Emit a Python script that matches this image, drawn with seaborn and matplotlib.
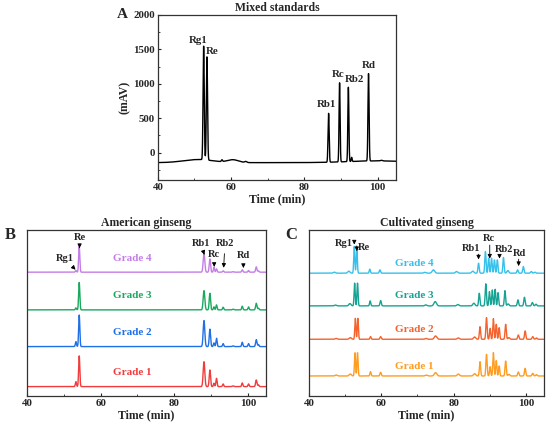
import numpy as np
import pandas as pd
import matplotlib.pyplot as plt
import seaborn as sns

# peak tables (time in min, height, sigma)
mix_times = [51.0, 52.5, 53.4, 57.5, 60.5, 64.0, 86.6, 89.6, 92.0, 92.9, 97.5, 101.0, 100.0]
mix_heights = [45, 1650, 1500, 25, 40, 15, 710, 1150, 1080, 60, 1270, 10, 25]
mix_widths = [4.0, 0.16, 0.16, 0.15, 1.5, 0.3, 0.15, 0.14, 0.14, 0.12, 0.15, 0.3, 8.0]
mix_baseline = -145

am_grade_names = ['Grade 1', 'Grade 2', 'Grade 3', 'Grade 4']
am_colors = ['#f03c3c', '#1f6fe6', '#19a85e', '#c57de6']
am_offsets = [5.6, 29.7, 51.8, 74.5]
am_times = [53.3, 54.2, 88.1, 89.7, 90.8, 91.5, 93.3, 96.0, 98.5, 100.2, 102.3, 102.9]
am_widths = [0.15, 0.16, 0.22, 0.18, 0.15, 0.16, 0.16, 0.2, 0.16, 0.16, 0.18, 0.16]
am_heights = [
    [3.0, 18.5, 15.0, 10.0, 2.0, 5.0, 1.6, 0.4, 2.2, 1.6, 4.0, 1.0],
    [3.0, 19.0, 15.7, 10.5, 2.2, 5.0, 1.8, 0.4, 2.6, 1.8, 4.2, 1.2],
    [1.2, 16.5, 11.6, 10.0, 1.8, 3.0, 1.6, 0.4, 2.2, 1.8, 4.0, 1.0],
    [1.0, 15.5, 11.0, 8.0, 3.0, 2.0, 0.8, 0.3, 1.4, 1.0, 3.2, 0.8],
]

cu_grade_names = ['Grade 1', 'Grade 2', 'Grade 3', 'Grade 4']
cu_colors = ['#ff9c1f', '#f5622c', '#15a394', '#35c1ec']
cu_offsets = [12.0, 34.1, 54.2, 73.9]
cu_times = [
    [47.5, 51.4, 52.7, 53.4, 57.0, 59.8, 72.4, 75.0, 81.3, 85.8, 87.3, 89.1, 90.1, 91.0, 91.8, 92.6, 94.4, 95.3, 97.9, 99.8, 101.9, 102.9],
    [47.5, 51.4, 52.8, 53.5, 57.0, 59.8, 72.4, 75.0, 81.3, 85.8, 87.3, 89.1, 90.1, 91.0, 91.8, 92.6, 94.4, 95.3, 97.9, 99.8, 101.9, 102.9],
    [47.3, 51.3, 52.6, 53.4, 56.9, 59.8, 72.3, 74.9, 81.2, 85.6, 87.1, 88.9, 89.9, 90.7, 91.5, 92.3, 94.2, 95.1, 97.8, 99.6, 101.8, 102.8],
    [47.0, 51.0, 52.5, 53.2, 56.8, 59.6, 72.0, 74.4, 80.8, 85.3, 86.9, 88.8, 89.7, 90.5, 91.3, 92.1, 93.8, 95.0, 97.7, 99.3, 101.5, 102.5],
]
cu_widths = [0.3, 0.3, 0.15, 0.15, 0.16, 0.18, 0.3, 0.35, 0.3, 0.3, 0.17, 0.17, 0.16, 0.16, 0.16, 0.16, 0.17, 0.25, 0.18, 0.18, 0.2, 0.2]
cu_heights = [
    [0.6, 1.2, 14.0, 14.0, 2.6, 2.2, 0.5, 2.0, 1.2, 1.4, 8.6, 13.0, 5.6, 14.0, 9.2, 6.0, 9.0, 1.0, 2.4, 4.6, 1.6, 0.8],
    [0.5, 1.0, 12.6, 12.6, 1.6, 1.6, 0.5, 2.0, 0.8, 1.4, 7.6, 13.0, 6.6, 12.4, 9.0, 7.0, 9.0, 1.0, 2.6, 5.0, 1.6, 0.8],
    [0.5, 1.4, 13.7, 13.7, 3.0, 3.2, 0.6, 2.6, 0.8, 1.6, 7.6, 13.3, 8.6, 9.6, 10.0, 8.0, 9.2, 1.2, 3.6, 5.2, 2.0, 1.0],
    [0.6, 1.2, 16.0, 15.0, 2.4, 2.0, 0.5, 2.0, 1.0, 1.2, 6.0, 13.0, 9.0, 9.0, 8.0, 8.0, 9.4, 1.6, 2.0, 4.0, 1.0, 0.6],
]

t = np.linspace(40, 105, 4000)


def trace(times, heights, widths, base):
    y = np.full_like(t, float(base))
    for c, h, w in zip(times, heights, widths):
        y += h * np.exp(-0.5 * ((t - c) / w) ** 2)
    return y


sns.set_theme(style='ticks')
plt.rcParams['font.family'] = ['Liberation Serif', 'DejaVu Serif']
plt.rcParams['font.weight'] = 'bold'
plt.rcParams['axes.labelweight'] = 'bold'
plt.rcParams['axes.titleweight'] = 'bold'
plt.rcParams['xtick.direction'] = 'in'
plt.rcParams['ytick.direction'] = 'in'

fig = plt.figure(figsize=(5.5, 4.28), dpi=100)
axA = fig.add_axes([0.287, 0.579, 0.433, 0.386])
axB = fig.add_axes([0.049, 0.075, 0.435, 0.388])
axC = fig.add_axes([0.562, 0.075, 0.427, 0.388])

# ---- A: mixed standards
dfA = pd.DataFrame({'time': t, 'signal': trace(mix_times, mix_heights, mix_widths, mix_baseline)})
sns.lineplot(data=dfA, x='time', y='signal', ax=axA, color='black', lw=1.0, estimator=None)
axA.set_xlim(40, 105)
axA.set_ylim(-400, 2000)
axA.set_xticks([40, 60, 80, 100])
axA.set_yticks([0, 500, 1000, 1500, 2000])
axA.set_xticks([50, 70, 90], minor=True)
axA.set_yticks([-250, 250, 750, 1250, 1750], minor=True)
axA.set_xlabel('Time (min)', fontsize=8.5, labelpad=1)
axA.set_ylabel('(mAV)', fontsize=8.5, labelpad=2)
axA.set_title('Mixed standards', fontsize=8.5, pad=3)
axA.tick_params(labelsize=7.8, length=2.5, width=0.8, pad=2)
axA.tick_params(which='minor', length=1.5, width=0.6)
for lab, x, y in [('Rg1', 51.0, 1560), ('Re', 54.8, 1400), ('Rb1', 86.0, 640), ('Rc', 89.3, 1070),
                  ('Rb2', 93.7, 1000), ('Rd', 97.7, 1200)]:
    axA.text(x, y, lab, fontsize=7.8, ha='center', va='bottom')

# ---- B: American ginseng
for name, col, off, hs in zip(am_grade_names, am_colors, am_offsets, am_heights):
    df = pd.DataFrame({'time': t, 'signal': trace(am_times, hs, am_widths, off)})
    sns.lineplot(data=df, x='time', y='signal', ax=axB, color=col, lw=1.0, estimator=None)
    axB.text(68.6, off + 8.5, name, color=col, fontsize=8, ha='center', va='center')

# ---- C: Cultivated ginseng
for name, col, off, ts, hs in zip(cu_grade_names, cu_colors, cu_offsets, cu_times, cu_heights):
    df = pd.DataFrame({'time': t, 'signal': trace(ts, hs, cu_widths, off)})
    sns.lineplot(data=df, x='time', y='signal', ax=axC, color=col, lw=1.0, estimator=None)
    axC.text(69.0, off + 6.0, name, color=col, fontsize=8, ha='center', va='center')

arrow = dict(arrowstyle='-|>', color='black', lw=0.6, mutation_scale=6)
for lab, tx, ty, px, py in [('Rg1', 50.3, 82.5, 53.2, 76.0), ('Re', 54.3, 95.5, 54.3, 89.0),
                            ('Rb1', 87.2, 92.0, 88.2, 85.0), ('Rc', 90.8, 85.0, 90.9, 76.0),
                            ('Rb2', 93.8, 92.0, 93.4, 75.5), ('Rd', 98.8, 84.5, 98.8, 77.0)]:
    axB.annotate(lab, xy=(px, py), xytext=(tx, ty), fontsize=7.5, ha='center', va='center', arrowprops=arrow)

for lab, tx, ty in [('Rg1', 49.7, 91.6), ('Re', 55.3, 89.6), ('Rb1', 84.8, 89.0), ('Rc', 89.7, 95.0),
                    ('Rb2', 93.9, 88.4), ('Rd', 98.3, 86.0)]:
    axC.text(tx, ty, lab, fontsize=7.5, ha='center', va='center')
for x0, y0, y1 in [(52.5, 94.0, 89.5), (53.2, 92.0, 85.5), (86.9, 87.0, 80.5), (90.0, 92.5, 81.0),
                   (92.7, 86.0, 81.0), (98.0, 84.0, 76.5)]:
    axC.annotate('', xy=(x0, y1), xytext=(x0, y0), arrowprops=arrow)

for ax, title in [(axB, 'American ginseng'), (axC, 'Cultivated ginseng')]:
    ax.set_xlim(40, 105)
    ax.set_ylim(0, 100)
    ax.set_yticks([])
    ax.set_xticks([40, 60, 80, 100])
    ax.set_xticks([50, 70, 90], minor=True)
    ax.set_xlabel('Time (min)', fontsize=8.5, labelpad=1)
    ax.set_ylabel('')
    ax.set_title(title, fontsize=8.5, pad=3)
    ax.tick_params(labelsize=7.8, length=2.5, width=0.8, pad=2)
    ax.tick_params(which='minor', length=1.5, width=0.6)

for ax in (axA, axB, axC):
    for s in ax.spines.values():
        s.set_visible(True)
        s.set_linewidth(0.9)
        s.set_color('#333333')

fig.text(0.222, 0.965, 'A', fontsize=11, ha='center', va='center')
fig.text(0.018, 0.451, 'B', fontsize=12, ha='center', va='center')
fig.text(0.530, 0.451, 'C', fontsize=12, ha='center', va='center')

fig.savefig('out.png', dpi=100)
